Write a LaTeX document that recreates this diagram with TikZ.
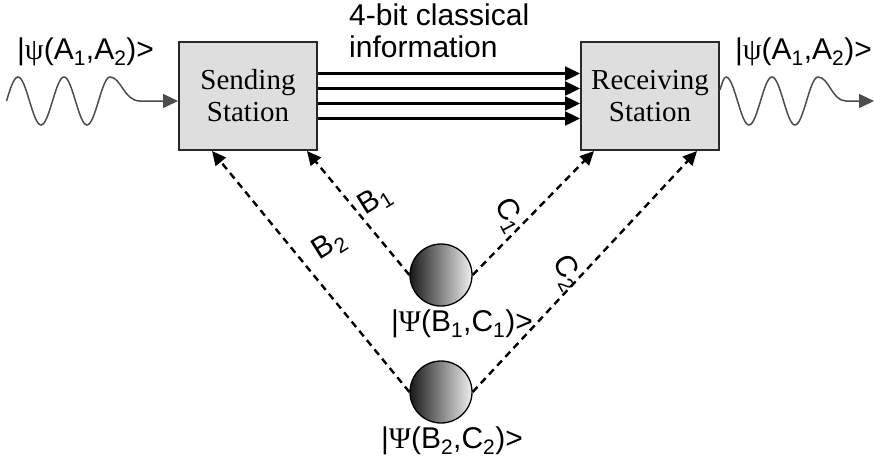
\documentclass[tikz,border=0pt]{standalone}
\usepackage{fontspec}
\setmainfont{Liberation Serif}
\setsansfont{Liberation Sans}
\usetikzlibrary{positioning,arrows.meta}

\definecolor{boxfill}{RGB}{222,222,222}
\definecolor{edge}{RGB}{40,40,40}

\begin{document}
\begin{tikzpicture}[x=1pt, y=-1pt,
  station/.style={draw=edge, line width=2pt, fill=boxfill, minimum width=138pt, minimum height=108pt, align=center, font=\fontsize{29}{32}\selectfont\rmfamily, inner sep=0pt},
  pair/.style={circle, draw=black, line width=1.3pt, minimum size=62pt, inner sep=0pt, left color=black!90, right color=black!6},
  lbl/.style={font=\fontsize{30}{32}\selectfont\sffamily, inner sep=1pt},
  bits/.style={-{Triangle[length=15pt, width=14pt]}, line width=2.4pt},
  link/.style={-{Triangle[length=14pt, width=13pt]}, line width=2.4pt, dash pattern=on 7pt off 5pt},
  wave/.style={-{Triangle[length=15pt, width=14pt]}, line width=1.5pt, draw=black!70}]
\useasboundingbox (0,0) rectangle (874,472);
\node[station] (send) at (248,96) {Sending\\Station};
\node[station, right=262pt of send] (recv) {Receiving\\Station};
\node[pair] (b1c1) at (441,275) {};
\node[pair] (b2c2) at (441,392) {};
\node[lbl, below=2pt of b1c1, xshift=21pt] (k1) {|{\rmfamily Ψ}(B\textsubscript{1},C\textsubscript{1})>};
\node[lbl, below=2pt of b2c2, xshift=11pt] (k2) {|{\rmfamily Ψ}(B\textsubscript{2},C\textsubscript{2})>};
\node[lbl, align=left, anchor=west, inner sep=0pt] (info) at (349,31) {4-bit classical\\information};
\node[lbl, anchor=west, inner sep=0pt] (inlbl) at (17,52) {|{\rmfamily ψ}(A\textsubscript{1},A\textsubscript{2})>};
\node[lbl, anchor=east, inner sep=0pt] (outlbl) at (872,52) {|{\rmfamily ψ}(A\textsubscript{1},A\textsubscript{2})>};
\coordinate (out) at (874,101);
% four classical bits
\foreach \dy in {22.5,7.5,-7.5,-22.5}
  \draw[bits] ([yshift=\dy pt]send.east) -- ([yshift=\dy pt]recv.west);
% incoming and outgoing qubit waves
\draw[wave] (6.5,101) sin (18,77) cos (29.5,101) sin (41,125) cos (52.5,101) sin (64,77) cos (75.5,101) sin (87,125) cos (98.5,101) sin (110,77) .. controls (121,77) and (124,101) .. (140,101) -- ([yshift=-5pt]send.west);
\draw[wave] ([yshift=6pt]recv.east) sin (726,77) cos (737.5,101) sin (749,125) cos (760.5,101) sin (772,77) cos (783.5,101) sin (795,125) cos (806.5,101) sin (818,77) .. controls (829,77) and (832,101) .. (846,101) -- (out);
% entangled pairs
\draw[link] (b1c1.west) -- node[lbl, pos=0.6, xshift=27pt, rotate=32] {B\textsubscript{1}} ([xshift=59pt]send.south);
\draw[link] (b2c2.west) -- node[lbl, pos=0.607, xshift=40pt, rotate=32] {B\textsubscript{2}} ([xshift=-36pt]send.south);
\draw[link] (b1c1.east) -- node[lbl, pos=0.48, xshift=-22pt, rotate=-62] {C\textsubscript{1}} ([xshift=-56pt]recv.south);
\draw[link] (b2c2.east) -- node[lbl, pos=0.496, xshift=-17pt, rotate=-62] {C\textsubscript{2}} ([xshift=47pt]recv.south);
\end{tikzpicture}
\end{document}
